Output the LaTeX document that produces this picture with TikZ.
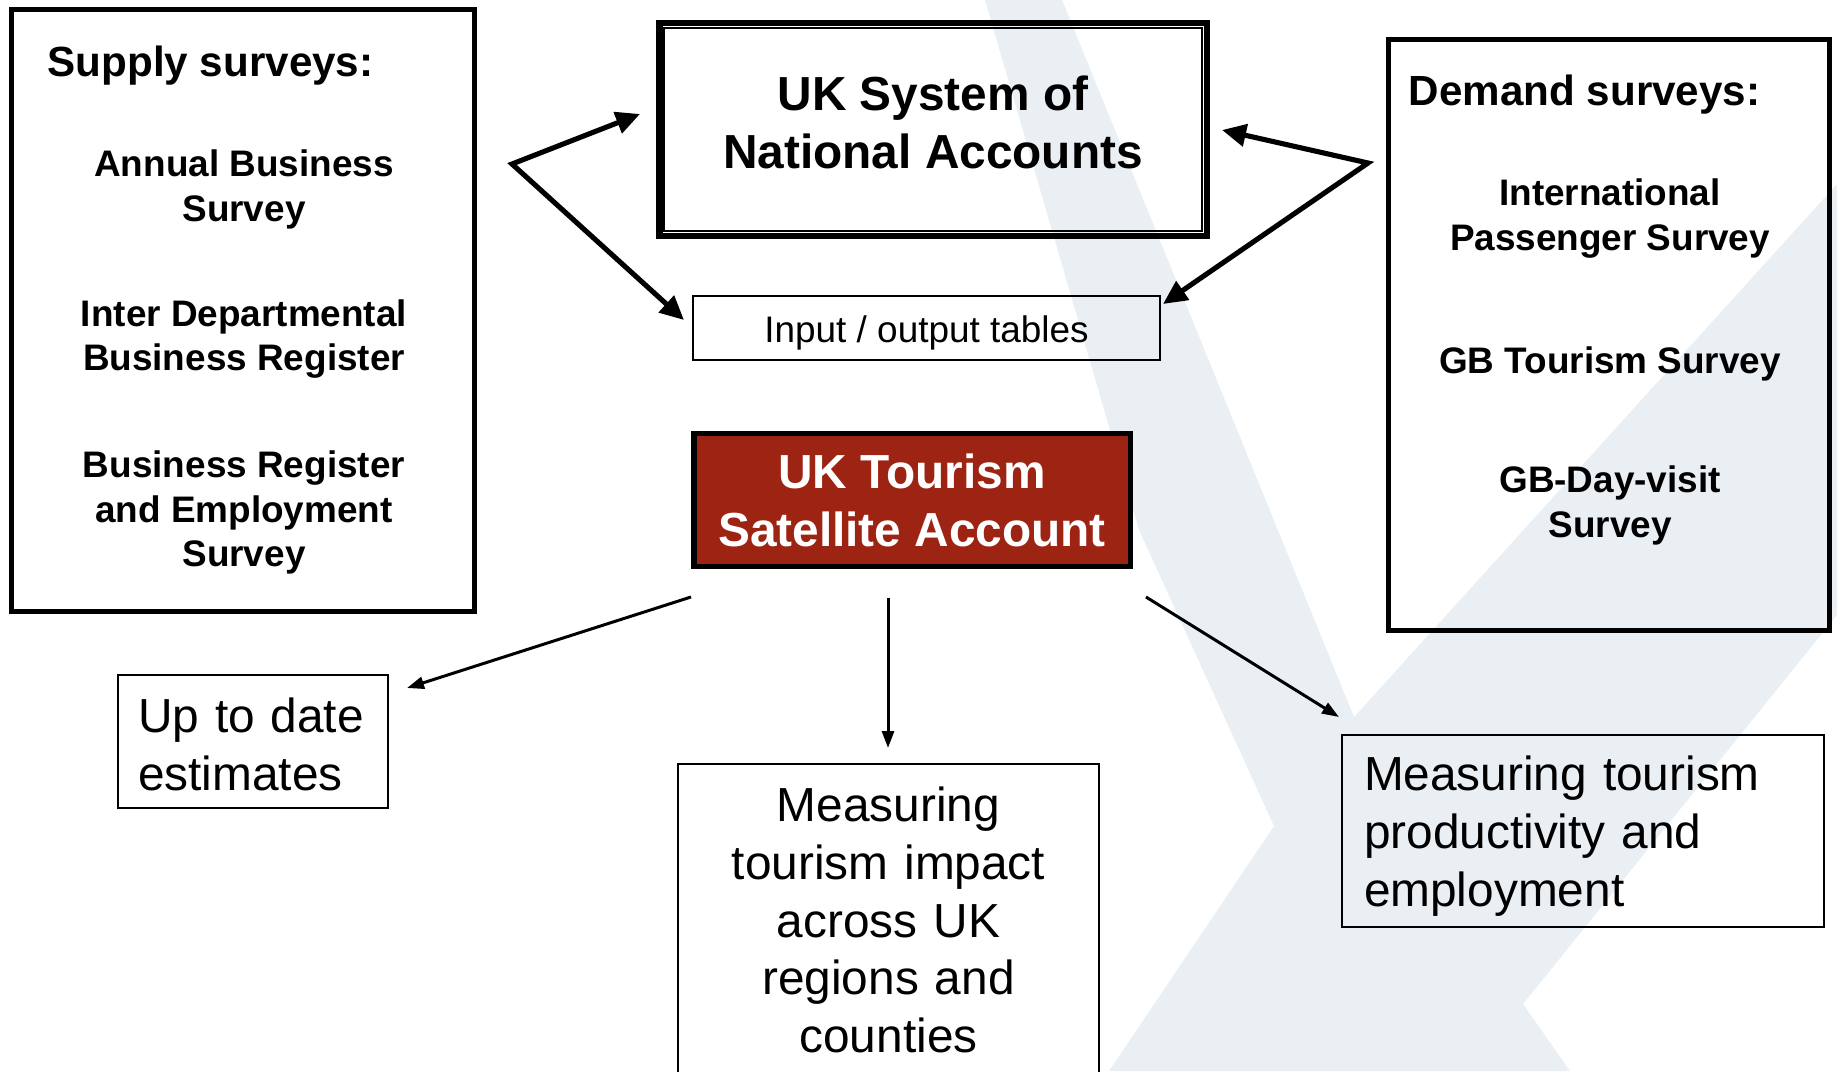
\documentclass[tikz,border=0pt]{standalone}
\usepackage{fontspec}
\setmainfont{Liberation Sans}
\usetikzlibrary{arrows.meta,positioning,calc}
\definecolor{TsaRed}  {HTML}{9D2412}
\definecolor{MarkGray}{HTML}{EAEFF4}
\tikzset{
  survbox/.style={rectangle,draw=black,line width=1.45pt,inner sep=0pt},
  hdr/.style={font=\fontsize{12}{14.4}\selectfont\bfseries,inner sep=0pt},
  itm/.style={font=\fontsize{10.5}{12.6}\selectfont\bfseries,align=center,
              inner sep=0pt},
  bigbox/.style={rectangle,draw=black,inner sep=0pt,align=center,
                 font=\fontsize{13.6}{16.5}\selectfont\bfseries},
  iobox/.style={rectangle,draw=black,line width=0.57pt,inner sep=0pt,
                font=\fontsize{10.5}{12.6}\selectfont},
  outbox/.style={rectangle,draw=black,line width=0.55pt,inner sep=0pt,
                 font=\fontsize{13.6}{16.4}\selectfont},
  arr/.style={-{Triangle[length=0.17cm,width=0.12cm]},line width=0.85pt},
  barr/.style={{Triangle[length=0.24cm,width=0.22cm]}-{Triangle[length=0.24cm,width=0.22cm]},
               line width=1.45pt},
}

\begin{document}
\begin{tikzpicture}

  \useasboundingbox (0,0) rectangle (18.37,-10.71);

  % faint logo behind everything
  \fill[MarkGray] (9.85,0) -- (10.62,0) -- (13.54,-7.17) -- (18.37,-1.84)
    -- (18.37,-6.15) -- (15.23,-10.04) -- (15.70,-10.71) -- (11.09,-10.71)
    -- (12.74,-8.26) -- (11.39,-5.30) -- cycle;

  % supply side
  \node[survbox,minimum width=4.63cm,minimum height=6.02cm] (supply) at (2.43,-3.105) {};
  \node[hdr,anchor=west] (suptitle) at (0.47,-0.66) {Supply surveys:};
  \node[itm] (abs)  at (2.44,-1.895) {Annual Business\\Survey};
  \node[itm] (idbr) at (2.44,-3.39) {Inter Departmental\\Business Register};
  \node[itm] (bres) at (2.44,-5.125) {Business Register\\and Employment\\Survey};

  % demand side
  \node[survbox,minimum width=4.405cm,minimum height=5.905cm] (demand) at (16.09,-3.35) {};
  \node[hdr,anchor=west] (demtitle) at (14.08,-0.95) {Demand surveys:};
  \node[itm] (ips)  at (16.10,-2.185) {International\\Passenger Survey};
  \node[itm] (gbts) at (16.10,-3.635) {GB Tourism Survey};
  \node[itm] (gbdv) at (16.10,-5.055) {GB-Day-visit\\Survey};

  % middle column
  \node[bigbox,line width=1.85pt,minimum width=5.475cm,minimum height=2.125cm,
        text depth=0.14cm]
    (sna) at (9.33,-1.295) {UK System of\\National Accounts};
  \draw[line width=0.7pt] ($(sna.north west)+(0.08,-0.08)$)
    rectangle ($(sna.south east)+(-0.08,0.08)$);
  \node[iobox,minimum width=4.67cm,minimum height=0.64cm,text height=0.36cm]
    (io) at (9.265,-3.28) {Input / output tables};
  \node[bigbox,line width=1.56pt,fill=TsaRed,text=white,
        minimum width=4.365cm,minimum height=1.325cm]
    (tsa) at (9.12,-5.00) {UK Tourism\\Satellite Account};

  % outputs
  \node[outbox,minimum width=2.70cm,minimum height=1.33cm,text width=2.30cm,align=left,
        text height=0.40cm]
    (upd) at (2.53,-7.415) {Up to date\\estimates};
  \node[outbox,minimum width=4.21cm,minimum height=3.12cm,text width=4.0cm,align=center]
    (imp) at (8.885,-9.20) {Measuring\\tourism impact\\across UK\\regions and\\counties};
  \node[outbox,minimum width=4.82cm,minimum height=1.92cm,text width=4.38cm,align=left,
        text height=0.45cm]
    (prod) at (15.83,-8.31) {Measuring tourism\\productivity and\\employment};

  % arrow ends
  \coordinate (supJ)  at (5.12,-1.64);
  \coordinate (snaL)  at (6.40,-1.14);
  \coordinate (ioL)   at (6.84,-3.20);
  \coordinate (demJ)  at (13.68,-1.63);
  \coordinate (snaR)  at (12.22,-1.30);
  \coordinate (ioR)   at (11.63,-3.04);
  \coordinate (tsaSW) at (6.91,-5.97);
  \coordinate (tsaS)  at (8.88,-5.98);
  \coordinate (tsaSE) at (11.46,-5.97);
  \coordinate (updIn) at (4.07,-6.88);
  \coordinate (impIn) at (8.88,-7.48);
  \coordinate (prdIn) at (13.39,-7.17);

  \draw[barr] (snaL) -- (supJ) -- (ioL);
  \draw[barr] (snaR) -- (demJ) -- (ioR);

  \draw[arr] (tsaSW) -- (updIn);
  \draw[arr] (tsaS)  -- (impIn);
  \draw[arr] (tsaSE) -- (prdIn);

\end{tikzpicture}
\end{document}
